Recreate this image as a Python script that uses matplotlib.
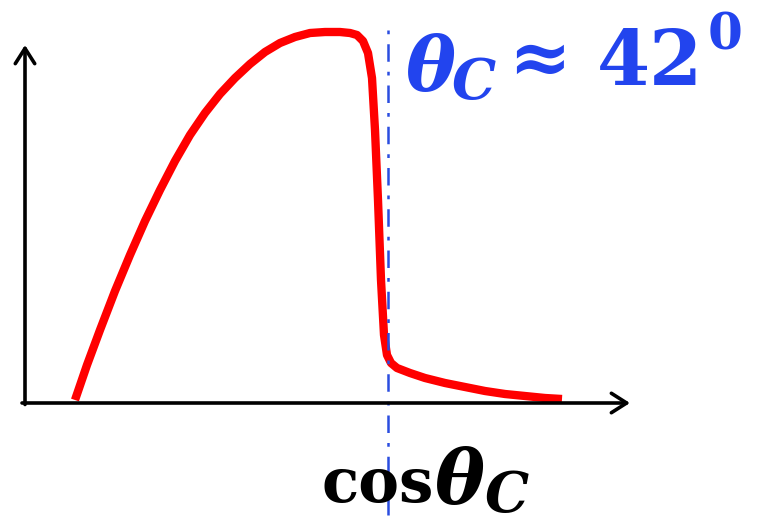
import matplotlib
matplotlib.use("Agg")
import matplotlib.pyplot as plt
from matplotlib.transforms import IdentityTransform

# Curve (x: horizontal units from origin, y: height above axis)
curve_x = [50, 62, 75, 90, 105, 120, 135, 150, 165, 180, 195, 210, 225, 240, 255, 270, 285,
           300, 315, 325, 332, 338, 343, 347, 350, 353, 356, 359, 362, 366, 372,
           385, 400, 420, 440, 460, 480, 500, 520, 537]
curve_y = [3, 38, 73, 112, 148, 182, 213, 242, 268, 290, 309, 325, 339, 351, 360, 366, 370,
           371, 371, 370, 368, 362, 350, 325, 273, 203, 123, 68, 48, 40, 35,
           30, 25, 20, 16, 12, 9, 7, 5, 4]
critical_x = 363
label_top = ['θ', 'C', '≈', '42', '0']
label_bottom = ['cos', 'θ', 'C']

W, H = 758, 523
fig = plt.figure(figsize=(W / 100, H / 100), dpi=100)
ax = fig.add_axes([0, 0, 1, 1])
ax.set_xlim(-25, 733)
ax.set_ylim(-120, 403)
ax.axis('off')

# axes arrows
arrow = dict(arrowstyle='->,head_length=1.1,head_width=0.7', lw=2.6, color='black',
             shrinkA=0, shrinkB=0)
ax.annotate('', xy=(0, 358), xytext=(0, -1.5), arrowprops=arrow)
ax.annotate('', xy=(605, 0), xytext=(-3, 0), arrowprops=arrow)

ax.plot(curve_x, curve_y, color='#ff0000', lw=6, solid_capstyle='butt', solid_joinstyle='round')

ax.plot([critical_x, critical_x], [-112, 383], color='#2a4de0', lw=1.8, linestyle='-.',
        dashes=(7, 4, 1.5, 4))

serif = 'DejaVu Serif'
renderer = fig.canvas.get_renderer()


def chain(texts, styles, px, py, color):
    """styles: (size, italic, gap_px, dy_px) per piece; dy positive = lower."""
    x = px
    for s, (size, italic, gap, dy) in zip(texts, styles):
        x += gap
        t = fig.text(x, H - (py + dy), s, transform=IdentityTransform(), color=color,
                     fontsize=size, family=serif, weight='bold',
                     style='italic' if italic else 'normal', ha='left', va='baseline')
        bb = t.get_window_extent(renderer)
        x = bb.x1


chain(label_top,
      [(54, True, 0, 0), (40, True, -4, 8), (54, False, 12, -8), (55, False, 26, -6),
       (36, False, 4, -41)],
      406, 91, '#2244ee')
chain(label_bottom,
      [(44, False, 0, 0), (54, True, 0, 2), (40, True, 0, 10)],
      322, 502, 'black')

fig.savefig('out.png', dpi=100)
